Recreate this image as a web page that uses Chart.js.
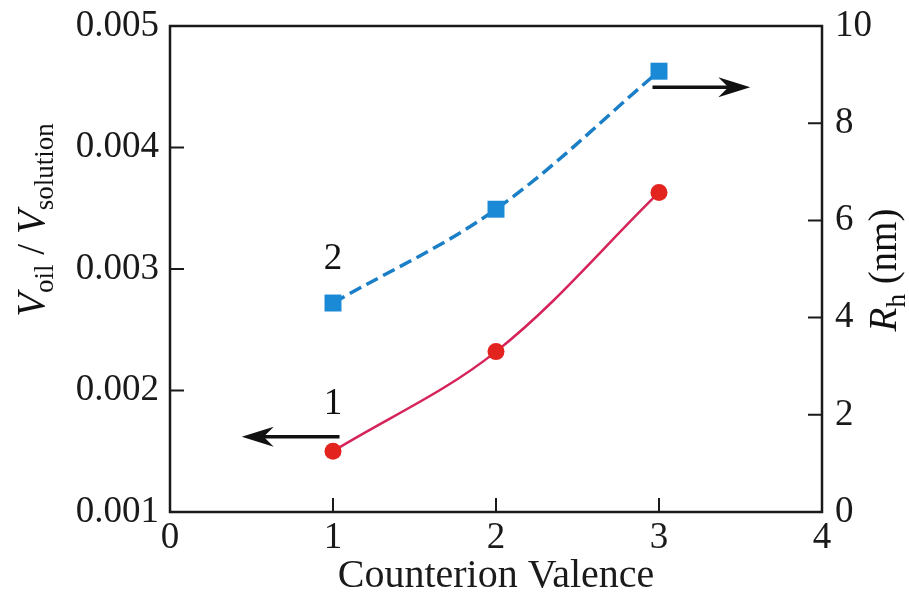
<!DOCTYPE html>
<html>
<head>
<meta charset="utf-8">
<script src="https://cdn.jsdelivr.net/npm/chart.js"></script>
<style>
  html, body { margin: 0; padding: 0; background: #fff; }
  #wrap { width: 909px; height: 600px; }
</style>
</head>
<body>
<div id="wrap"><canvas id="c" width="909" height="600"></canvas></div>
<script>
// data
const valence = [1, 2, 3];
const volumeRatio = [0.0015, 0.00232, 0.00363];   // curve 1, left axis
const radiusNm = [4.3, 6.23, 9.07];                 // curve 2, right axis
const leftTicks = [0.001, 0.002, 0.003, 0.004, 0.005];
const rightTicks = [0, 2, 4, 6, 8, 10];
const xTicks = [0, 1, 2, 3, 4];

const serif = "'Liberation Serif', 'Times New Roman', serif";

const frame = {
  id: "frame",
  afterDraw(chart) {
    const { ctx, chartArea: a, scales } = chart;
    const x = scales.x, yl = scales.y, yr = scales.y1;
    ctx.save();
    ctx.strokeStyle = "#1a1a1a";
    ctx.lineWidth = 2.5;
    ctx.strokeRect(a.left, a.top, a.right - a.left, a.bottom - a.top);

    // inward tick marks
    const t = 14;
    ctx.lineWidth = 2;
    ctx.beginPath();
    xTicks.forEach(v => {
      const px = x.getPixelForValue(v);
      ctx.moveTo(px, a.bottom); ctx.lineTo(px, a.bottom - t);
    });
    leftTicks.forEach(v => {
      const py = yl.getPixelForValue(v);
      ctx.moveTo(a.left, py); ctx.lineTo(a.left + t, py);
    });
    rightTicks.forEach(v => {
      const py = yr.getPixelForValue(v);
      ctx.moveTo(a.right, py); ctx.lineTo(a.right - t, py);
    });
    ctx.stroke();

    // arrows pointing to each curve's axis
    function arrow(x0, x1, y) {
      const dir = Math.sign(x1 - x0);
      ctx.strokeStyle = "#111";
      ctx.fillStyle = "#111";
      ctx.lineWidth = 3.5;
      ctx.beginPath();
      ctx.moveTo(x0, y); ctx.lineTo(x1 - dir * 14, y);
      ctx.stroke();
      ctx.beginPath();
      ctx.moveTo(x1, y);
      ctx.lineTo(x1 - dir * 32, y - 10);
      ctx.lineTo(x1 - dir * 22, y);
      ctx.lineTo(x1 - dir * 32, y + 10);
      ctx.closePath();
      ctx.fill();
    }
    arrow(x.getPixelForValue(1.04), x.getPixelForValue(0.44), yl.getPixelForValue(0.00162));
    arrow(x.getPixelForValue(2.96), x.getPixelForValue(3.56), yr.getPixelForValue(8.74));

    // curve numbers
    ctx.fillStyle = "#111";
    ctx.font = "37px " + serif;
    ctx.textAlign = "center";
    ctx.textBaseline = "middle";
    ctx.fillText("1", x.getPixelForValue(1), yl.getPixelForValue(0.00189));
    ctx.fillText("2", x.getPixelForValue(1), yr.getPixelForValue(5.2));

    // rotated axis titles with subscripts
    function subTitle(parts, cx, cy) {
      ctx.save();
      ctx.translate(cx, cy);
      ctx.rotate(-Math.PI / 2);
      let w = 0;
      parts.forEach(p => { ctx.font = p.f; w += ctx.measureText(p.s).width; });
      let px = -w / 2;
      ctx.textAlign = "left";
      ctx.textBaseline = "alphabetic";
      parts.forEach(p => {
        ctx.font = p.f;
        ctx.fillText(p.s, px, 12 + (p.dy || 0));
        px += ctx.measureText(p.s).width;
      });
      ctx.restore();
    }
    const big = "39px " + serif, ital = "italic 39px " + serif, sub = "27px " + serif;
    subTitle([
      { s: "V", f: ital }, { s: "oil", f: sub, dy: 9 },
      { s: " / ", f: big },
      { s: "V", f: ital }, { s: "solution", f: sub, dy: 9 }
    ], 32, 220);
    subTitle([
      { s: "R", f: ital }, { s: "h", f: sub, dy: 9 }, { s: " (nm)", f: big }
    ], 884, 270);
    ctx.restore();
  }
};

function fixWidth(w) {
  return s => { s.width = w; s.paddingTop = 0; s.paddingBottom = 0; };
}

new Chart(document.getElementById("c"), {
  type: "line",
  data: {
    datasets: [
      {
        label: "1",
        data: valence.map((v, i) => ({ x: v, y: volumeRatio[i] })),
        yAxisID: "y",
        borderColor: "#d6245a",
        borderWidth: 2.5,
        pointStyle: "circle",
        pointRadius: 8.5,
        pointBackgroundColor: "#e3231e",
        pointBorderWidth: 0,
        tension: 0.35
      },
      {
        label: "2",
        data: valence.map((v, i) => ({ x: v, y: radiusNm[i] })),
        yAxisID: "y1",
        borderColor: "#1a7fc6",
        borderWidth: 3.5,
        borderDash: [13, 6],
        pointStyle: "rect",
        pointRadius: 12,
        pointBackgroundColor: "#1b8ad6",
        pointBorderWidth: 0,
        tension: 0.35
      }
    ]
  },
  options: {
    responsive: false,
    animation: false,
    events: [],
    layout: { padding: { top: 26, left: 0, right: 0, bottom: 0 } },
    plugins: { legend: { display: false }, tooltip: { enabled: false } },
    scales: {
      x: {
        type: "linear",
        min: 0, max: 4,
        grid: { display: false, drawTicks: false },
        border: { display: false },
        afterBuildTicks: s => { s.ticks = xTicks.map(v => ({ value: v })); },
        afterFit: s => { s.height = 88; s.paddingLeft = 0; s.paddingRight = 0; },
        ticks: { color: "#1a1a1a", padding: 4, font: { family: serif, size: 37 } },
        title: {
          display: true, text: "Counterion Valence", color: "#1a1a1a",
          font: { family: serif, size: 40 }, padding: { top: 0, bottom: 0 }
        }
      },
      y: {
        position: "left",
        min: 0.001, max: 0.005,
        grid: { display: false, drawTicks: false },
        border: { display: false },
        afterBuildTicks: s => { s.ticks = leftTicks.map(v => ({ value: v })); },
        afterFit: fixWidth(170),
        ticks: {
          color: "#1a1a1a", padding: 11, font: { family: serif, size: 37 },
          callback: v => v.toFixed(3)
        }
      },
      y1: {
        position: "right",
        min: 0, max: 10,
        grid: { display: false, drawTicks: false },
        border: { display: false },
        afterBuildTicks: s => { s.ticks = rightTicks.map(v => ({ value: v })); },
        afterFit: fixWidth(87),
        ticks: { color: "#1a1a1a", padding: 13, font: { family: serif, size: 37 } }
      }
    }
  },
  plugins: [frame]
});
</script>
</body>
</html>
